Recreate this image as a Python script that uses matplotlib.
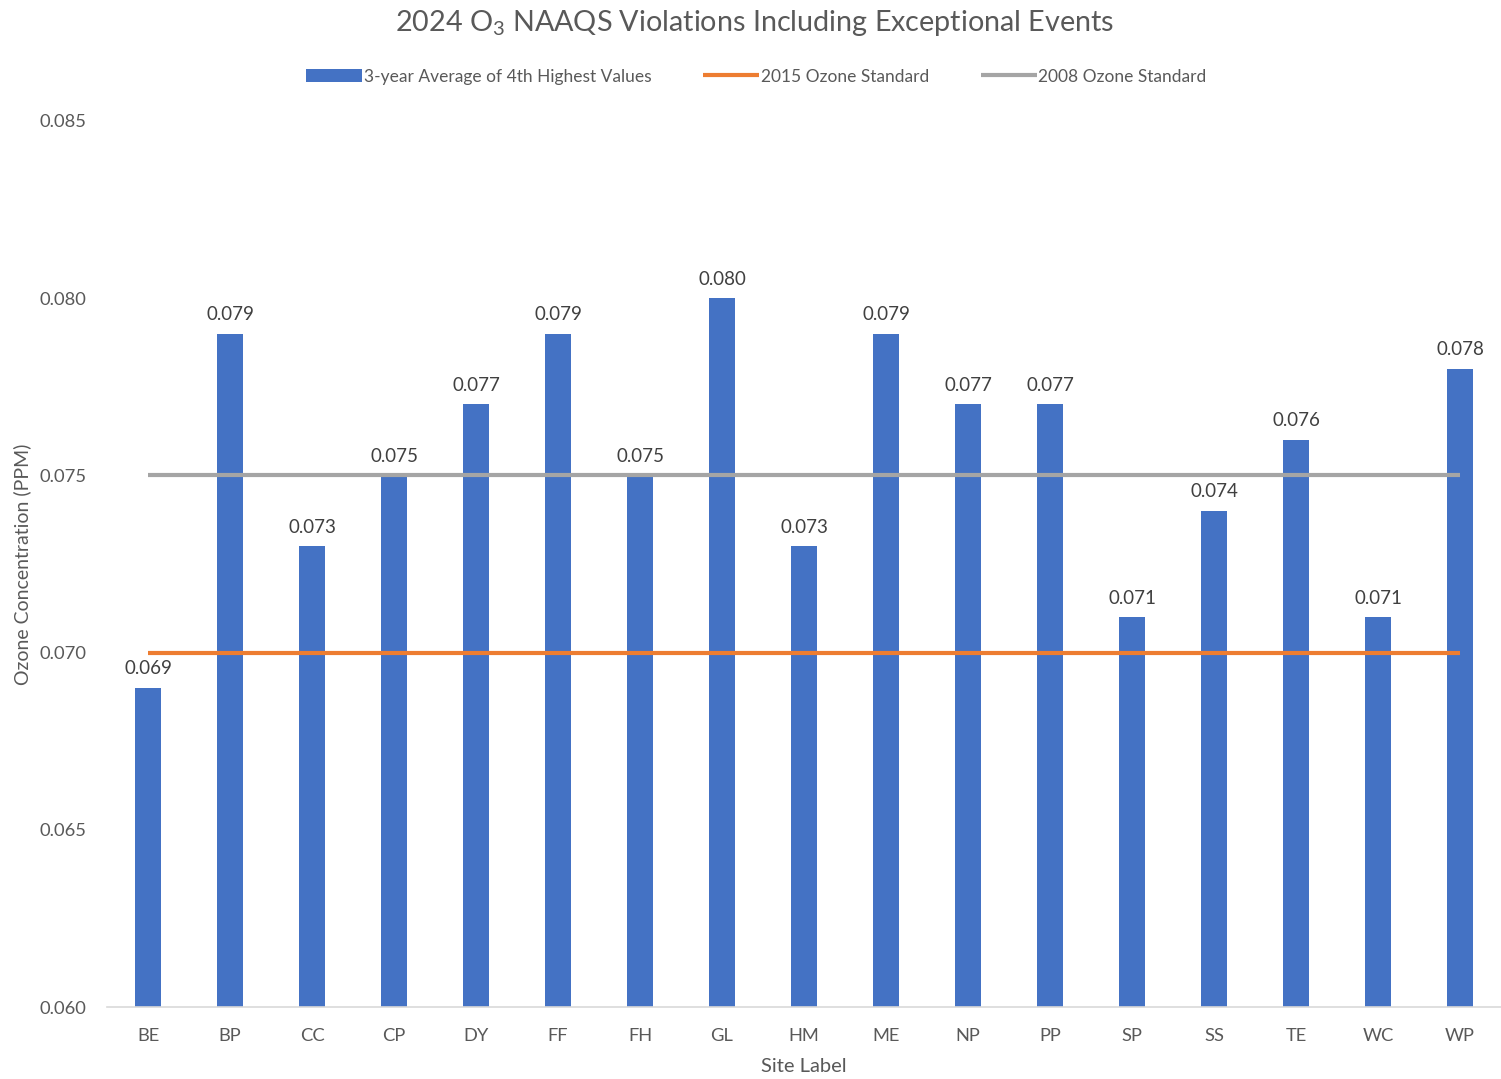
import matplotlib
matplotlib.use("Agg")
import matplotlib.pyplot as plt
import numpy as np

plt.rcParams['font.family'] = ['Lato', 'DejaVu Sans']
plt.rcParams['mathtext.default'] = 'regular'

sites = ['BE', 'BP', 'CC', 'CP', 'DY', 'FF', 'FH', 'GL', 'HM', 'ME',
         'NP', 'PP', 'SP', 'SS', 'TE', 'WC', 'WP']
values = [0.069, 0.079, 0.073, 0.075, 0.077, 0.079, 0.075, 0.080, 0.073,
          0.079, 0.077, 0.077, 0.071, 0.074, 0.076, 0.071, 0.078]
std_2015 = 0.070
std_2008 = 0.075
yticks = [0.060, 0.065, 0.070, 0.075, 0.080, 0.085]

txt = '#595959'
fig = plt.figure(figsize=(15.01, 10.79), dpi=100)
ax = fig.add_axes([0.0713, 0.0667, 0.9287, 0.8212])

x = np.arange(len(sites))
bars = ax.bar(x, values, width=0.32, color='#4472C4', zorder=2,
              label='3-year Average of 4th Highest Values')
l1, = ax.plot([x[0], x[-1]], [std_2015, std_2015], color='#ED7D31', lw=3, zorder=3,
              label='2015 Ozone Standard', solid_capstyle='butt')
l2, = ax.plot([x[0], x[-1]], [std_2008, std_2008], color='#A5A5A5', lw=3, zorder=3,
              label='2008 Ozone Standard', solid_capstyle='butt')

for xi, v in zip(x, values):
    ax.text(xi, v + 0.0003, f'{v:.3f}', ha='center', va='bottom', fontsize=13.5, color='#404040')

ax.set_xlim(-0.5, len(sites) - 0.5)
ax.set_ylim(0.060, 0.085)
ax.set_yticks(yticks)
ax.set_yticklabels([f'{t:.3f}' for t in yticks])
ax.set_xticks(x)
ax.set_xticklabels(sites)
ax.tick_params(axis='both', length=0, labelsize=13.2, labelcolor=txt)
ax.tick_params(axis='x', pad=15)
ax.tick_params(axis='y', pad=15)
for s in ['top', 'right', 'left']:
    ax.spines[s].set_visible(False)
ax.spines['bottom'].set_color('#D9D9D9')
ax.spines['bottom'].set_linewidth(1.2)

ax.set_xlabel('Site Label', fontsize=14.5, color=txt, labelpad=10)
ax.set_ylabel('Ozone Concentration (PPM)', fontsize=14, color=txt)
ax.yaxis.set_label_coords(-0.0545, 0.5)

fig.text(0.503, 0.979, '2024 O$_3$ NAAQS Violations Including Exceptional Events',
         ha='center', va='center', fontsize=20.7, color=txt)

leg = fig.legend([bars, l1, l2], [bars.get_label(), l1.get_label(), l2.get_label()],
                 loc='center', bbox_to_anchor=(0.504, 0.929), ncol=3, frameon=False,
                 fontsize=12.5, labelcolor=txt, handlelength=3.2, handletextpad=0.1,
                 columnspacing=3.0, handleheight=0.8)

fig.savefig('out.png', dpi=100)
